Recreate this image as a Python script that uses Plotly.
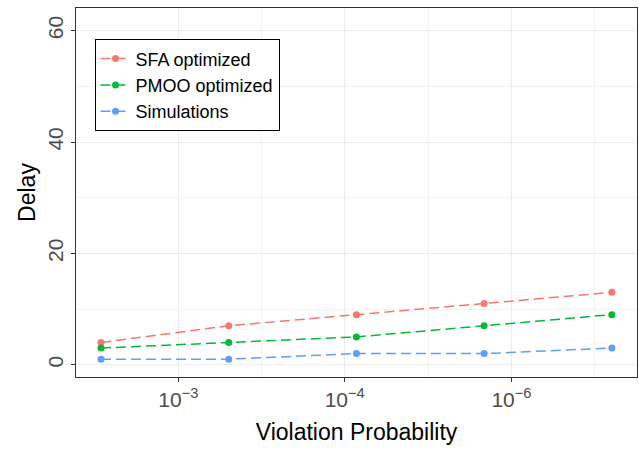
import plotly.graph_objects as go

# ---- data ----
series_names = ["SFA optimized", "PMOO optimized", "Simulations"]
x_points = [1, 2, 3, 4, 5]
sfa_delay = [4, 7, 9, 11, 13]
pmoo_delay = [3, 4, 5, 7, 9]
sim_delay = [1, 1, 2, 2, 3]
x_tick_vals = [1.606, 2.908, 4.214]
x_tick_text = ["10<sup>−3</sup>", "10<sup>−4</sup>", "10<sup>−6</sup>"]
x_minor_vals = [2.257, 3.561, 4.867]
colors = ["#F8766D", "#00BA38", "#619CFF"]

fig = go.Figure()
for name, ys, col in zip(series_names, [sfa_delay, pmoo_delay, sim_delay], colors):
    fig.add_trace(go.Scatter(
        x=x_points, y=ys, name=name, mode="lines+markers",
        line=dict(color=col, width=1.5, dash="10px,5px"),
        marker=dict(color=col, size=7),
    ))

axis_common = dict(
    showline=True, linecolor="#333333", linewidth=1, mirror=True,
    ticks="outside", ticklen=4, tickcolor="#333333", tickwidth=1,
    gridcolor="#EBEBEB", gridwidth=1.2, zeroline=False, automargin=False,
    tickfont=dict(family="Liberation Sans, Arial", size=21, color="#4D4D4D"),
)

fig.update_layout(
    width=639, height=452,
    margin=dict(l=76, r=2, t=8, b=75),
    plot_bgcolor="white", paper_bgcolor="white",
    font=dict(family="Liberation Sans, Arial", color="black"),
    xaxis=dict(
        **axis_common,
        range=[0.804, 5.197],
        tickmode="array", tickvals=x_tick_vals, ticktext=x_tick_text,
        minor=dict(tickmode="array", tickvals=x_minor_vals, showgrid=True,
                   gridcolor="#F2F2F2", gridwidth=1, ticks=""),
        title=dict(text="Violation Probability", font=dict(size=23, color="black"), standoff=13),
    ),
    yaxis=dict(
        **axis_common,
        range=[-2.2, 64.07],
        tickmode="linear", tick0=0, dtick=20, tickangle=-90,
        minor=dict(dtick=10, showgrid=True, gridcolor="#F2F2F2", gridwidth=1, ticks=""),
        title=dict(text="Delay", font=dict(size=23, color="black"), standoff=1),
    ),
    legend=dict(
        x=0.033, y=0.915, xanchor="left", yanchor="top",
        bordercolor="black", borderwidth=1, bgcolor="white",
        font=dict(size=18, color="black"), tracegroupgap=0,
        itemwidth=30,
    ),
    showlegend=True,
)

fig.write_html(
    "out.html",
    config={"displayModeBar": False},
    post_script="document.body.style.margin='0';document.body.style.overflow='hidden';",
)
